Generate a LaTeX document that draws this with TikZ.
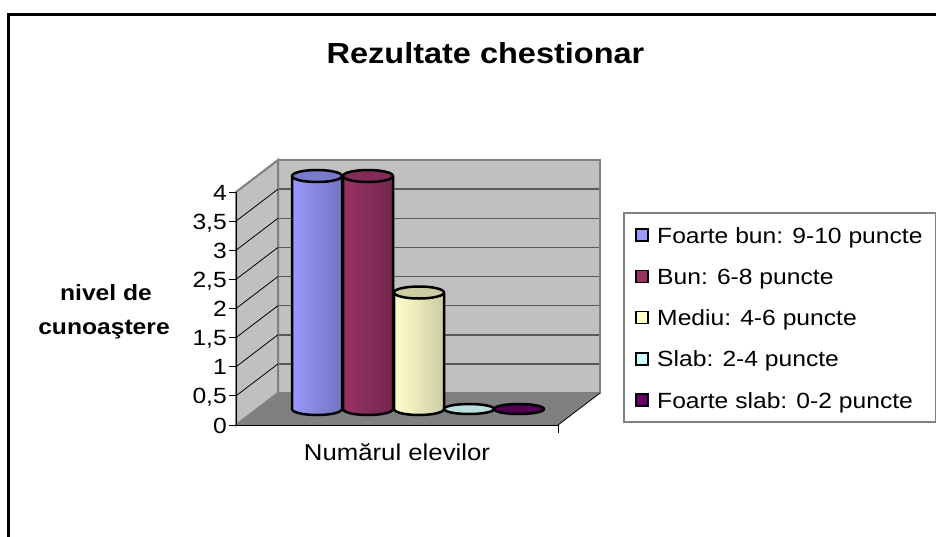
\documentclass[tikz,border=0pt]{standalone}
\usepackage{fontspec}
\setmainfont{Liberation Sans}
\usetikzlibrary{positioning}

\definecolor{wallgray}{HTML}{C0C0C0}
\definecolor{floorgray}{HTML}{808080}
\definecolor{gridgray}{HTML}{5A5A5A}
\definecolor{fbun}{HTML}{9999FF}
\definecolor{bun}{HTML}{993366}
\definecolor{mediu}{HTML}{FFFFCC}
\definecolor{slab}{HTML}{CCFFFF}
\definecolor{fslab}{HTML}{660066}

\tikzset{
  lbl/.style={font=\fontsize{22}{24}\selectfont, xscale=1.12, inner sep=0pt},
  boldlbl/.style={font=\bfseries\fontsize{22}{24}\selectfont, xscale=1.12, inner sep=0pt},
  barline/.style={draw=black, line width=2.5pt, line join=round},
  legsq/.style={draw=black, line width=1.5pt, minimum size=12pt, inner sep=0pt}
}

% cylinder: centre x, value, left colour, right colour, top colour
\newcommand{\cylbar}[5]{%
  \pgfmathsetmacro{\ytop}{409-58.25*#2}
  \fill[left color=#3, right color=#4] (#1-25,\ytop) -- (#1-25,409)
    arc[start angle=180, end angle=0, x radius=25, y radius=6] -- (#1+25,\ytop) -- cycle;
  \draw[barline] (#1-25,\ytop) -- (#1-25,409)
    arc[start angle=180, end angle=0, x radius=25, y radius=6] -- (#1+25,\ytop);
  \filldraw[barline, fill=#5] (#1,\ytop) ellipse[x radius=25, y radius=6];
}

\begin{document}
\begin{tikzpicture}[x=1pt, y=-1pt]
\useasboundingbox (0,0) rectangle (936,536);
\fill[white] (0,0) rectangle (936,536);
\draw[line width=3pt] (8,14) rectangle (950,550);

\node[boldlbl, font=\bfseries\fontsize{29}{32}\selectfont, anchor=base] (title) at (485.5,63) {Rezultate chestionar};

% walls and floor
\filldraw[fill=wallgray, draw=floorgray, line width=2pt] (278,160) rectangle (600,393);
\filldraw[fill=wallgray, draw=floorgray, line width=2pt] (236,192) -- (278,160) -- (278,393) -- (236,425) -- cycle;
\fill[floorgray] (236,425) -- (278,393) -- (600,393) -- (558,425) -- cycle;
\draw[floorgray, line width=2pt] (278,160) -- (278,393);
\foreach \v in {0.5,1,...,3.5} {
  \draw[gridgray, line width=1.5pt] (279,393-58.25*\v) -- (599,393-58.25*\v);
  \draw[black, line width=0.8pt] (236,425-58.25*\v) -- (278,393-58.25*\v);
}
\draw[black, line width=0.8pt] (558,425) -- (600,393);

% axes
\draw[black, line width=1pt] (236,192) -- (236,425) -- (558,425);
\draw[black, line width=1pt] (558,425) -- (558,433);
\foreach \v/\t [count=\i from 0] in {0/0,0.5/{0,5},1/1,1.5/{1,5},2/2,2.5/{2,5},3/3,3.5/{3,5},4/4} {
  \draw[black, line width=1pt] (229,425-58.25*\v) -- (236,425-58.25*\v);
  \node[lbl, anchor=base east] (t\i) at (227,425-58.25*\v+8) {\t};
}

% bars
\cylbar{317}{4}{fbun}{fbun!75!black}{fbun!80!black}
\cylbar{368}{4}{bun}{bun!75!black}{bun!85!black}
\cylbar{419}{2}{mediu}{mediu!80!black}{mediu!80!black}
\filldraw[barline, fill=slab!75!gray] (469,409) ellipse[x radius=25, y radius=5];
\filldraw[barline, fill=fslab!80!black] (519,409) ellipse[x radius=25, y radius=5];

\node[lbl, font=\fontsize{23}{25}\selectfont, anchor=base] (xlab) at (397,460) {Numărul elevilor};
\node[boldlbl, anchor=base] (ylab1) at (106,300) {nivel de};
\node[boldlbl, anchor=base] (ylab2) at (104,334) {cunoaştere};

% legend
\draw[floorgray, line width=1.2pt] (624,213) rectangle (935.5,422);
\foreach \c/\t [count=\i] in {fbun/{Foarte bun: 9-10 puncte}, bun/{Bun: 6-8 puncte}, mediu/{Mediu: 4-6 puncte}, slab/{Slab: 2-4 puncte}, fslab/{Foarte slab: 0-2 puncte}} {
  \node[legsq, fill=\c] (sq\i) at (642,235+41.3*\i-41.3) {};
  \node[lbl, anchor=base west] (leg\i) at (657,235+41.3*\i-41.3+8) {\t};
}
\end{tikzpicture}
\end{document}
